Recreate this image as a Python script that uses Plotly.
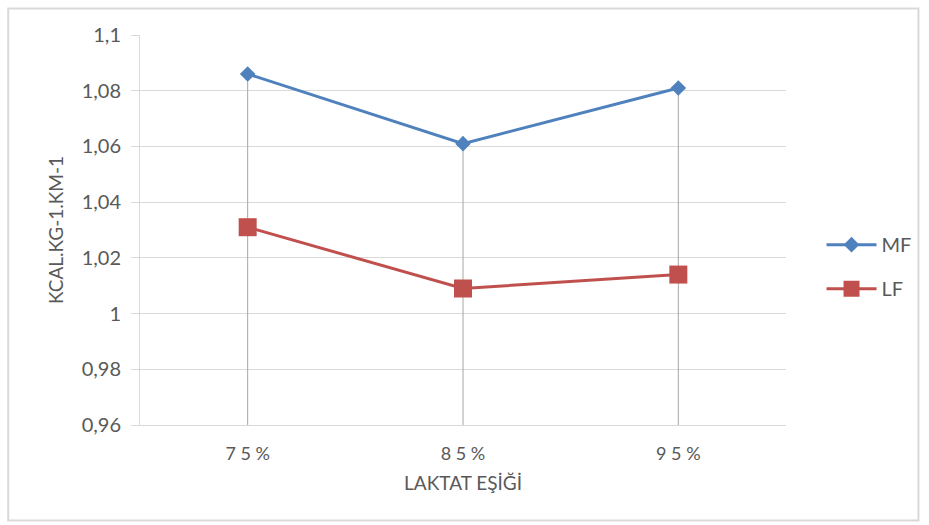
import plotly.graph_objects as go

categories = ["75%", "85%", "95%"]
tick_labels_x = ["7 5 %", "8 5 %", "9 5 %"]
mf_values = [1.086, 1.061, 1.081]
lf_values = [1.031, 1.009, 1.014]
y_tick_vals = [0.96, 0.98, 1.0, 1.02, 1.04, 1.06, 1.08, 1.1]
y_tick_text = ["0,96", "0,98", "1", "1,02", "1,04", "1,06", "1,08", "1,1"]
y_min, y_max = 0.96, 1.1

FONT = "Lato"
TXT = "#595959"
GRID = "#d9d9d9"

fig = go.Figure()

# drop lines (Excel style): from highest point down to axis minimum
dx, dy = [], []
for c, a, b in zip(categories, mf_values, lf_values):
    dx += [c, c, None]
    dy += [max(a, b), y_min, None]
fig.add_trace(go.Scatter(x=dx, y=dy, mode="lines", line=dict(color="#a6a6a6", width=1),
                         showlegend=False, hoverinfo="skip"))

fig.add_trace(go.Scatter(x=categories, y=mf_values, name="MF", mode="lines+markers",
                         line=dict(color="#4f81bd", width=3),
                         marker=dict(symbol="diamond", size=12, color="#4f81bd"),
                         legendgroup="a"))
fig.add_trace(go.Scatter(x=categories, y=lf_values, name="LF", mode="lines+markers",
                         line=dict(color="#c0504d", width=3),
                         marker=dict(symbol="square", size=18, color="#c0504d"),
                         legendgroup="b"))

fig.update_layout(
    width=929, height=525,
    margin=dict(l=140, r=141, t=35, b=100),
    paper_bgcolor="white", plot_bgcolor="white",
    font=dict(family=FONT, color=TXT, size=20),
    showlegend=True,
    legend=dict(x=1.055, y=0.406, xanchor="left", yanchor="middle",
                font=dict(size=20, color=TXT, family=FONT),
                traceorder="grouped", tracegroupgap=15, itemwidth=50),
    xaxis=dict(type="category", categoryorder="array", categoryarray=categories,
               tickvals=categories, ticktext=tick_labels_x,
               range=[-0.5, 2.5], showgrid=False, showline=True, linecolor=GRID, linewidth=1,
               ticks="", tickfont=dict(size=18, color=TXT, family=FONT),
               ticklabelstandoff=12,
               title=dict(text="LAKTAT EŞİĞİ", font=dict(size=19, color=TXT, family=FONT), standoff=14),
               zeroline=False),
    yaxis=dict(range=[y_min, y_max], tickvals=y_tick_vals, ticktext=y_tick_text,
               showgrid=True, gridcolor=GRID, gridwidth=1,
               showline=True, linecolor=GRID, linewidth=1,
               ticks="outside", ticklen=8, tickcolor=GRID,
               tickfont=dict(size=20, color=TXT, family=FONT), ticklabelstandoff=6,
               title=dict(text="KCAL.KG-1.KM-1", font=dict(size=19, color=TXT, family=FONT), standoff=13),
               zeroline=False),
    shapes=[dict(type="rect", xref="paper", yref="paper", x0=-0.204, x1=1.205, y0=-0.245, y1=1.068,
                 line=dict(color=GRID, width=2), fillcolor="rgba(0,0,0,0)", layer="below")],
)

fig.write_html("out.html")
